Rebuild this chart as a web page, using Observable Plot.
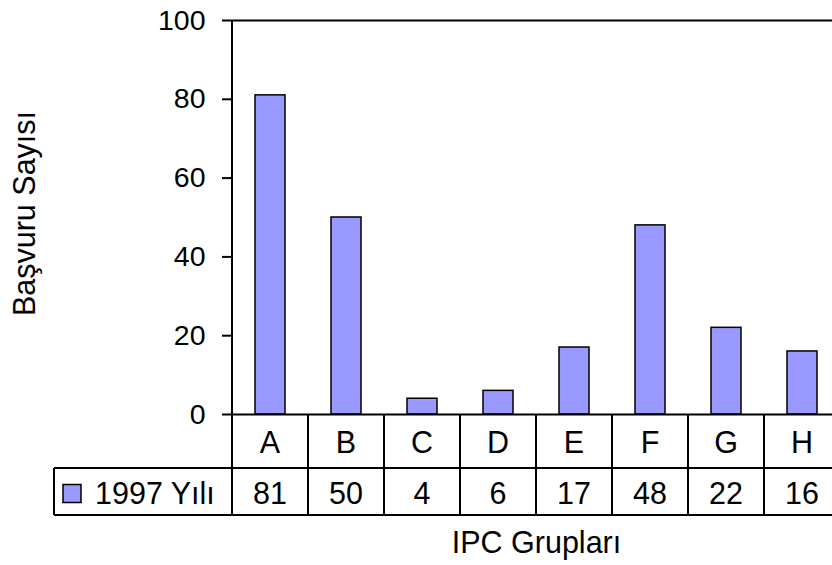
<!DOCTYPE html>
<html>
<head>
<meta charset="utf-8">
<script src="https://cdn.jsdelivr.net/npm/d3@7"></script>
<script src="https://cdn.jsdelivr.net/npm/@observablehq/plot@0.6"></script>
<style>
  html, body { margin: 0; padding: 0; background: #fff; overflow: hidden; }
  #chart { width: 832px; height: 565px; overflow: hidden; }
  #chart svg { overflow: hidden; max-width: none !important; }
</style>
</head>
<body>
<div id="chart"></div>
<script>
const categories = ["A", "B", "C", "D", "E", "F", "G", "H"];
const values = [81, 50, 4, 6, 17, 48, 22, 16];
const seriesName = "1997 Yılı";
const yTicks = [0, 20, 40, 60, 80, 100];
const yTitle = "Başvuru Sayısı";
const xTitle = "IPC Grupları";

const data = categories.map((c, i) => ({cat: c, value: values[i]}));
const FONT = "Liberation Sans, Arial, sans-serif";
const FS = 28.5;
const FS2 = 30.5;
const barColor = "#9999FF";

const plot = Plot.plot({
  width: 840,
  height: 565,
  marginTop: 20,
  marginBottom: 151,
  marginLeft: 232,
  marginRight: 0,
  style: {fontFamily: FONT, fontSize: FS + "px", color: "black", background: "white", maxWidth: "none"},
  x: {domain: categories, padding: 0, axis: null},
  y: {domain: [0, 100], axis: null},
  marks: [
    Plot.barY(data, {x: "cat", y: "value", fill: barColor, stroke: "black", strokeWidth: 1.5, insetLeft: 23, insetRight: 23}),
    Plot.ruleY([0, 100], {stroke: "black", strokeWidth: 2}),
    Plot.axisY({ticks: yTicks, tickSize: 10, tickPadding: 17, strokeWidth: 2, fontSize: FS, label: null, tickFormat: d => String(d)}),
    Plot.text([yTitle], {frameAnchor: "left", textAnchor: "middle", lineAnchor: "middle", rotate: -90, dx: -207, dy: -4, fontSize: FS2, fill: "black"}),
    Plot.text([xTitle], {frameAnchor: "bottom", textAnchor: "middle", lineAnchor: "middle", dy: 129, fontSize: FS2, fill: "black"})
  ]
});
document.getElementById("chart").appendChild(plot);

// Data table beneath the chart, positioned from the Plot scales
const xs = plot.scale("x");
const ys = plot.scale("y");
const step = xs.step;
const svg = d3.select(plot);
const r0 = ys.apply(0);
const r1 = r0 + 54;
const r2 = r1 + 47;
const left = xs.range[0];
const right = xs.range[1];
const legendLeft = 54;
const g = svg.append("g").attr("font-family", FONT).attr("font-size", FS2).attr("fill", "black");

// lines
g.append("line").attr("x1", left).attr("x2", left).attr("y1", ys.apply(100)).attr("y2", r2).attr("stroke", "black").attr("stroke-width", 2);
g.append("line").attr("x1", legendLeft).attr("x2", right).attr("y1", r1).attr("y2", r1).attr("stroke", "black").attr("stroke-width", 2);
g.append("line").attr("x1", legendLeft).attr("x2", right).attr("y1", r2).attr("y2", r2).attr("stroke", "black").attr("stroke-width", 2);
g.append("line").attr("x1", legendLeft).attr("x2", legendLeft).attr("y1", r1).attr("y2", r2).attr("stroke", "black").attr("stroke-width", 2);
categories.forEach(c => {
  const xb = xs.apply(c) + step;
  g.append("line").attr("x1", xb).attr("x2", xb).attr("y1", r0).attr("y2", r2).attr("stroke", "black").attr("stroke-width", 2);
});

// category labels and values
categories.forEach((c, i) => {
  const cx = xs.apply(c) + step / 2;
  g.append("text").attr("x", cx).attr("y", (r0 + r1) / 2 + 1).attr("dy", "0.35em").attr("text-anchor", "middle").text(c);
  g.append("text").attr("x", cx).attr("y", (r1 + r2) / 2 + 2).attr("dy", "0.35em").attr("text-anchor", "middle").text(values[i]);
});

// legend key
const my = (r1 + r2) / 2 + 2;
g.append("rect").attr("x", 63).attr("y", my - 9).attr("width", 18).attr("height", 18).attr("fill", barColor).attr("stroke", "black").attr("stroke-width", 1.5);
g.append("text").attr("x", 95).attr("y", my).attr("dy", "0.35em").attr("text-anchor", "start").text(seriesName);
</script>
</body>
</html>
